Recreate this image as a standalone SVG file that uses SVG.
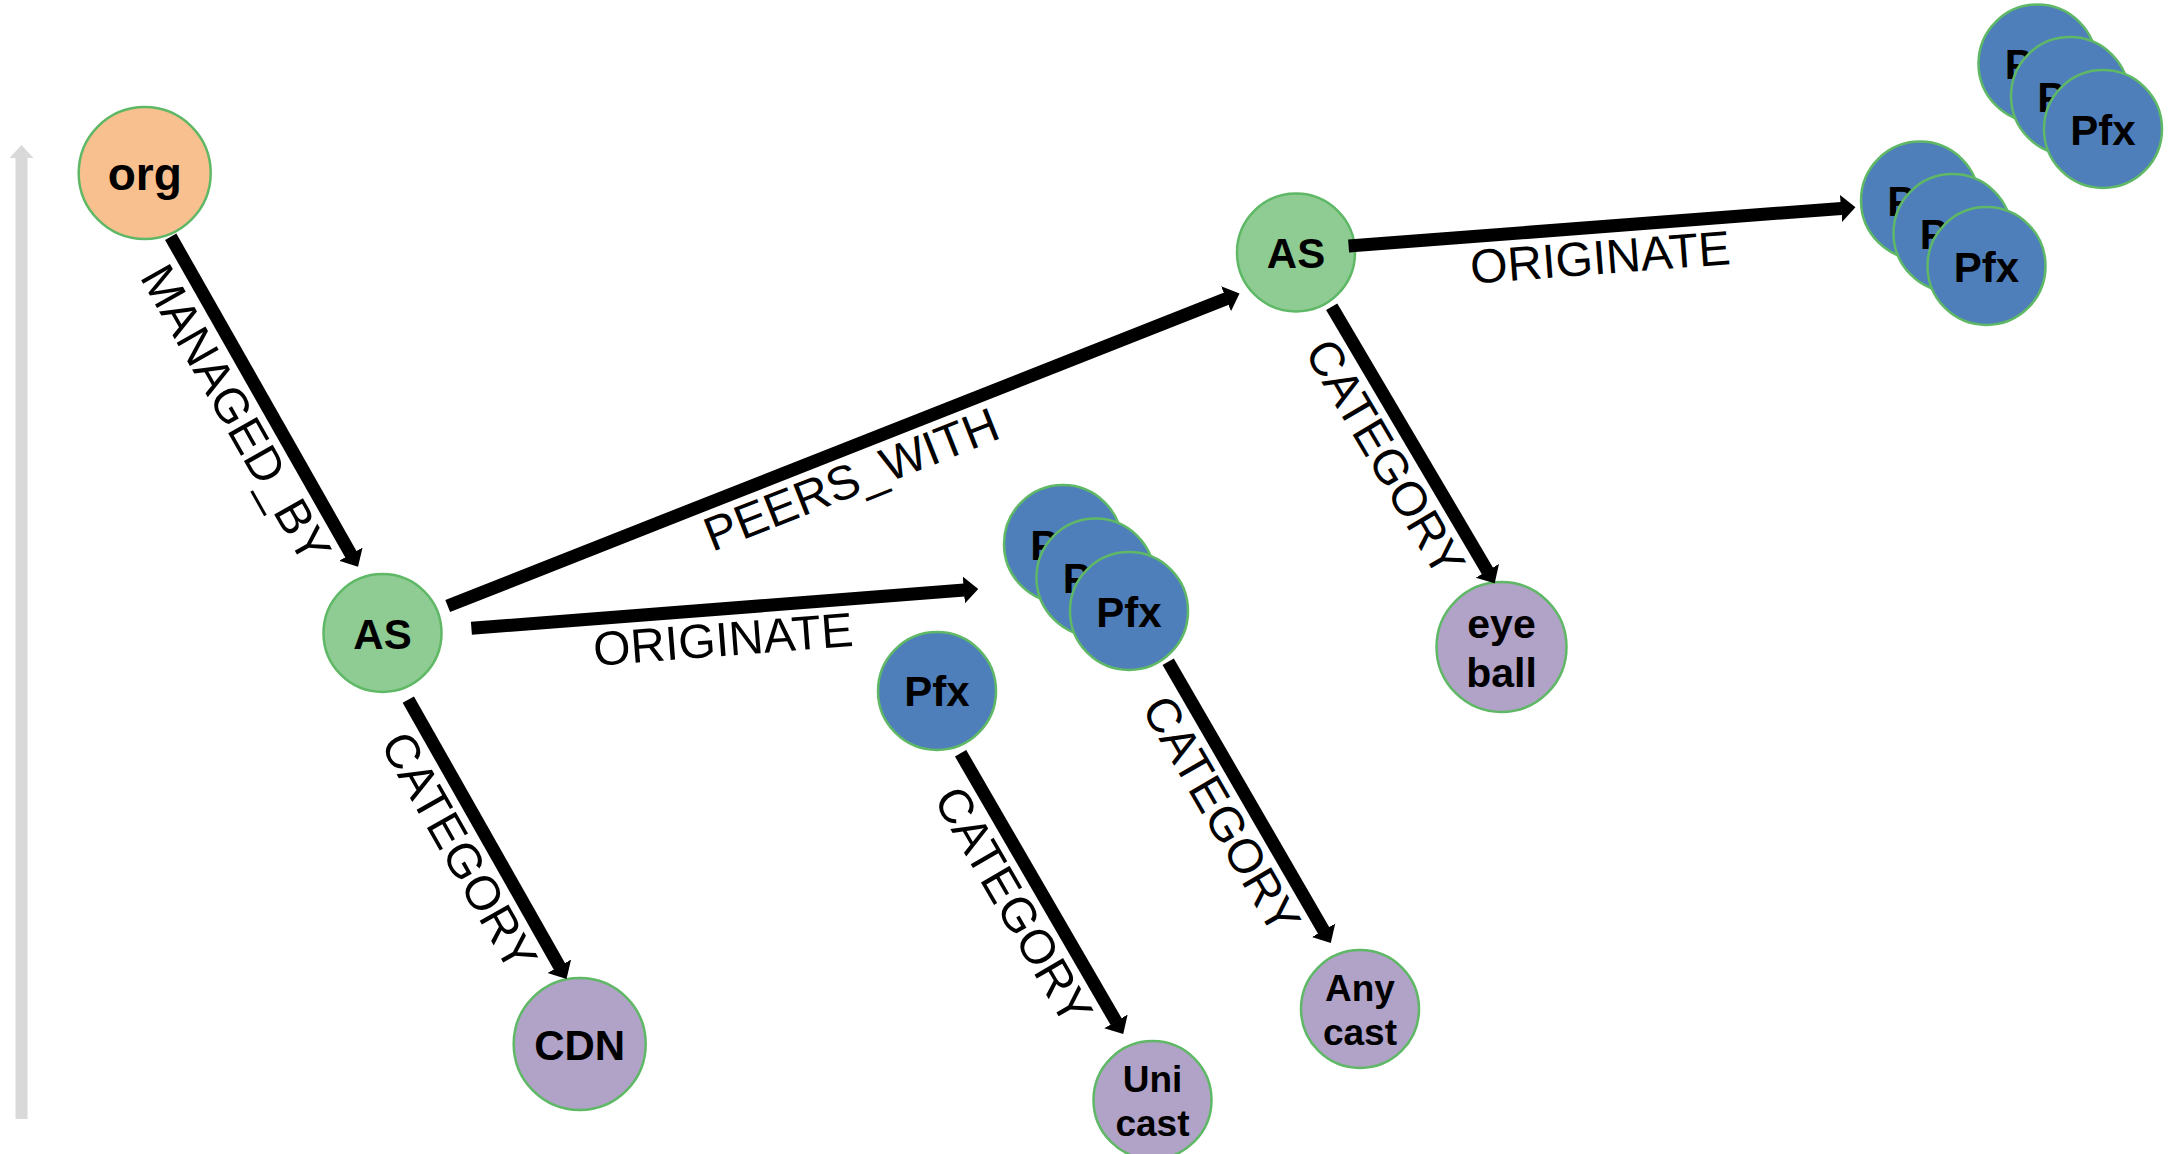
<svg xmlns="http://www.w3.org/2000/svg" width="2173" height="1154" viewBox="0 0 2173 1154">
  <style>
    .node circle { stroke: #5FB865; stroke-width: 2.5; }
    .org { fill: #F9C08F; }
    .as { fill: #8ECC93; }
    .pfx { fill: #4E7FBB; }
    .cat { fill: #B1A2C8; }
    .node text { font-family: "Liberation Sans", Arial, sans-serif; font-weight: bold; fill: #000; text-anchor: middle; }
    .edge { fill: none; stroke: #000; stroke-width: 13; stroke-linecap: butt; marker-end: url(#ah); }
    .lbl { font-family: "Liberation Sans", Arial, sans-serif; font-size: 48px; fill: #000; text-anchor: middle; }
  </style>
  <defs>
    <marker id="ah" markerUnits="userSpaceOnUse" markerWidth="17" markerHeight="30" viewBox="0 -15 17 30" refX="0.5" refY="0" orient="auto">
      <path d="M0,-13.5 L14.5,0 L0,13.5 Z" fill="#000"/>
    </marker>
  </defs>

  <rect width="2173" height="1154" fill="#fff"/>

  <!-- vertical axis arrow -->
  <g id="axis" fill="#D9D9D9">
    <rect x="15.5" y="157" width="12" height="962"/>
    <polygon points="21.5,145 33.5,158 9.5,158"/>
  </g>

  <g id="nodes">
    <g id="org" class="node">
      <circle class="org" cx="144.7" cy="173" r="66"/>
      <text x="144.7" y="190" font-size="46">org</text>
    </g>
    <g id="as1" class="node">
      <circle class="as" cx="382.5" cy="633" r="59"/>
      <text x="382.5" y="648.5" font-size="42">AS</text>
    </g>
    <g id="as2" class="node">
      <circle class="as" cx="1296" cy="252.5" r="59"/>
      <text x="1296" y="268" font-size="42">AS</text>
    </g>
    <g id="cdn" class="node">
      <circle class="cat" cx="579.7" cy="1044" r="66"/>
      <text x="579.7" y="1060" font-size="42">CDN</text>
    </g>
    <g id="eyeball" class="node">
      <circle class="cat" cx="1501.5" cy="647" r="65"/>
      <text x="1501.5" y="638" font-size="41">eye</text>
      <text x="1501.5" y="687" font-size="41">ball</text>
    </g>
    <g id="anycast" class="node">
      <circle class="cat" cx="1360" cy="1009" r="59"/>
      <text x="1360" y="1001" font-size="37">Any</text>
      <text x="1360" y="1045" font-size="37">cast</text>
    </g>
    <g id="unicast" class="node">
      <circle class="cat" cx="1152.5" cy="1100" r="59"/>
      <text x="1152.5" y="1092" font-size="37">Uni</text>
      <text x="1152.5" y="1136" font-size="37">cast</text>
    </g>
    <g id="pfx-single" class="node">
      <circle class="pfx" cx="937" cy="691" r="59"/>
      <text x="937" y="706" font-size="42">Pfx</text>
    </g>
    <!-- prefix stack originated by the lower AS -->
    <g id="pfx-a1" class="node">
      <circle class="pfx" cx="1063" cy="544" r="59"/>
      <text x="1063" y="559.5" font-size="42">Pfx</text>
    </g>
    <g id="pfx-a2" class="node">
      <circle class="pfx" cx="1095.5" cy="577.5" r="59"/>
      <text x="1095.5" y="593" font-size="42">Pfx</text>
    </g>
    <g id="pfx-a3" class="node">
      <circle class="pfx" cx="1129" cy="611" r="59"/>
      <text x="1129" y="626.5" font-size="42">Pfx</text>
    </g>
    <!-- prefix stack originated by the upper AS -->
    <g id="pfx-b1" class="node">
      <circle class="pfx" cx="1920" cy="200.5" r="59"/>
      <text x="1920" y="216" font-size="42">Pfx</text>
    </g>
    <g id="pfx-b2" class="node">
      <circle class="pfx" cx="1952.5" cy="233" r="59"/>
      <text x="1952.5" y="248.5" font-size="42">Pfx</text>
    </g>
    <g id="pfx-b3" class="node">
      <circle class="pfx" cx="1986.5" cy="266" r="59"/>
      <text x="1986.5" y="281.5" font-size="42">Pfx</text>
    </g>
    <!-- loose prefix stack, top right -->
    <g id="pfx-c1" class="node">
      <circle class="pfx" cx="2037.5" cy="63.5" r="59"/>
      <text x="2037.5" y="79" font-size="42">Pfx</text>
    </g>
    <g id="pfx-c2" class="node">
      <circle class="pfx" cx="2070" cy="96" r="59"/>
      <text x="2070" y="111.5" font-size="42">Pfx</text>
    </g>
    <g id="pfx-c3" class="node">
      <circle class="pfx" cx="2103" cy="129" r="59"/>
      <text x="2103" y="144.5" font-size="42">Pfx</text>
    </g>
  </g>

  <g id="edges">
    <path class="edge" d="M170.7,236.7 L351.1,554.6"/>
    <text class="lbl" transform="translate(170.7,236.7) rotate(60.43)" x="186" y="47">MANAGED_BY</text>

    <path class="edge" d="M408.3,699.6 L559.6,966.7"/>
    <text class="lbl" transform="translate(408.3,699.6) rotate(60.47)" x="157" y="47">CATEGORY</text>

    <path class="edge" d="M447.7,606 L1226.5,298.6"/>
    <text class="lbl" transform="translate(447.7,606) rotate(-21.54)" x="422" y="47">PEERS_WITH</text>

    <path class="edge" d="M471.4,628.3 L964.3,590.1"/>
    <text class="lbl" transform="translate(471.4,628.3) rotate(-4.43)" x="250" y="47">ORIGINATE</text>

    <path class="edge" d="M1348.6,246 L1841.5,208.4"/>
    <text class="lbl" transform="translate(1348.6,246) rotate(-4.36)" x="250" y="47">ORIGINATE</text>

    <path class="edge" d="M1331.7,306.8 L1487.6,571.2"/>
    <text class="lbl" transform="translate(1331.7,306.8) rotate(59.47)" x="157" y="47">CATEGORY</text>

    <path class="edge" d="M960.6,753.3 L1116.2,1021.8"/>
    <text class="lbl" transform="translate(960.6,753.3) rotate(59.9)" x="158" y="47">CATEGORY</text>

    <path class="edge" d="M1168.2,661.7 L1323.8,930.8"/>
    <text class="lbl" transform="translate(1168.2,661.7) rotate(59.95)" x="159" y="47">CATEGORY</text>
  </g>
</svg>
